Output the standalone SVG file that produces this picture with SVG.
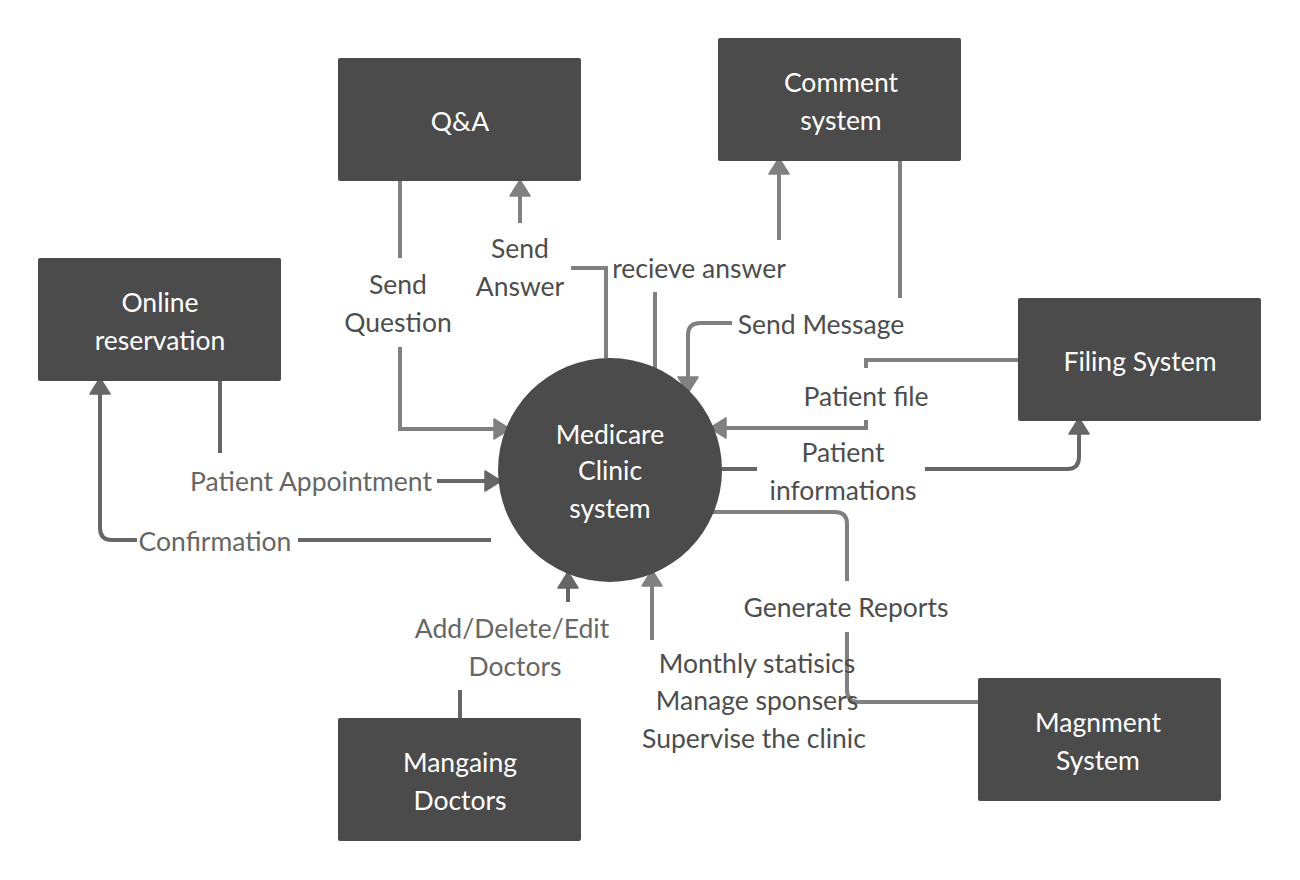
<svg xmlns="http://www.w3.org/2000/svg" width="1300" height="880" viewBox="0 0 1300 880">
<style>
.box{fill:#4b4b4b;}
.nt{font-family:Lato,"Liberation Sans",sans-serif;font-size:26.5px;fill:#ffffff;text-anchor:middle;}
.lb{font-family:Lato,"Liberation Sans",sans-serif;font-size:26.5px;fill:#4d4d4d;text-anchor:middle;}
.lb2{fill:#666666;}
.cl{fill:none;stroke:#808080;stroke-width:4;}
.cd{fill:none;stroke:#666666;stroke-width:4;}
</style>
<defs>
<marker id="al" viewBox="0 0 18 22" refX="17" refY="11" markerWidth="18" markerHeight="22" markerUnits="userSpaceOnUse" orient="auto">
<path d="M1,1 L17,11 L1,21 Z" fill="#808080" stroke="#808080" stroke-width="1.5" stroke-linejoin="round"/>
</marker>
<marker id="ad" viewBox="0 0 18 22" refX="17" refY="11" markerWidth="18" markerHeight="22" markerUnits="userSpaceOnUse" orient="auto">
<path d="M1,1 L17,11 L1,21 Z" fill="#666666" stroke="#666666" stroke-width="1.5" stroke-linejoin="round"/>
</marker>
</defs>
<rect width="1300" height="880" fill="#ffffff"/>
<g id="connectors">
<path class="cl" d="M400,181 V258"/>
<path class="cl" d="M400,347 V429 H510" marker-end="url(#al)"/>
<path class="cl" d="M606,358 V268 H571"/>
<path class="cl" d="M520,223 V180" marker-end="url(#al)"/>
<path class="cl" d="M655,377 V292"/>
<path class="cl" d="M779,240 V158" marker-end="url(#al)"/>
<path class="cl" d="M900,161 V298"/>
<path class="cl" d="M732,323 H700 Q688,323 688,335 V393" marker-end="url(#al)"/>
<path class="cl" d="M1018,360 H866 V368"/>
<path class="cl" d="M866,420 V428 H710" marker-end="url(#al)"/>
<path class="cl" d="M710,512 H835 Q847,512 847,524 V581"/>
<path class="cl" d="M847,632 V690 Q847,702 859,702 H980"/>
<path class="cl" d="M652,640 V570" marker-end="url(#al)"/>
<path class="cd" d="M460,718 V690"/>
<path class="cd" d="M568,602 V572" marker-end="url(#ad)"/>
<path class="cd" d="M220,381 V453"/>
<path class="cd" d="M437,481 H501" marker-end="url(#ad)"/>
<path class="cd" d="M491,540 H298"/>
<path class="cd" d="M137,540 H112 Q100,540 100,528 V378" marker-end="url(#ad)"/>
<path class="cd" d="M722,469 H757"/>
<path class="cd" d="M925,469 H1067 Q1079,469 1079,457 V418" marker-end="url(#ad)"/>
</g>
<g id="labels">
<text class="lb" x="398" y="294">Send</text>
<text class="lb" x="398" y="332">Question</text>
<text class="lb" x="520" y="258">Send</text>
<text class="lb" x="520" y="296">Answer</text>
<text class="lb" x="699" y="278">recieve answer</text>
<text class="lb" x="821" y="334">Send Message</text>
<text class="lb" x="866" y="406">Patient file</text>
<text class="lb" x="843" y="462">Patient</text>
<text class="lb" x="843" y="500">informations</text>
<text class="lb" x="846" y="617">Generate Reports</text>
<text class="lb" x="757" y="673">Monthly statisics</text>
<text class="lb" x="757" y="710">Manage sponsers</text>
<text class="lb" x="754" y="748">Supervise the clinic</text>
<text class="lb lb2" x="512" y="638">Add/Delete/Edit</text>
<text class="lb lb2" x="515" y="676">Doctors</text>
<text class="lb lb2" x="311" y="491">Patient Appointment</text>
<text class="lb lb2" x="215" y="551">Confirmation</text>
</g>
<g id="qa">
<rect class="box" x="338" y="58" width="243" height="123" rx="2"/>
<text class="nt" x="460" y="131">Q&amp;A</text>
</g>
<g id="comment">
<rect class="box" x="718" y="38" width="243" height="123" rx="2"/>
<text class="nt" x="841" y="92">Comment</text>
<text class="nt" x="841" y="130">system</text>
</g>
<g id="online">
<rect class="box" x="38" y="258" width="243" height="123" rx="2"/>
<text class="nt" x="160" y="312">Online</text>
<text class="nt" x="160" y="350">reservation</text>
</g>
<g id="filing">
<rect class="box" x="1018" y="298" width="243" height="123" rx="2"/>
<text class="nt" x="1140" y="371">Filing System</text>
</g>
<g id="magnment">
<rect class="box" x="978" y="678" width="243" height="123" rx="2"/>
<text class="nt" x="1098" y="732">Magnment</text>
<text class="nt" x="1098" y="770">System</text>
</g>
<g id="doctors">
<rect class="box" x="338" y="718" width="243" height="123" rx="2"/>
<text class="nt" x="460" y="772">Mangaing</text>
<text class="nt" x="460" y="810">Doctors</text>
</g>
<g id="medicare">
<circle cx="610" cy="470" r="112" fill="#4b4b4b"/>
<text class="nt" x="610" y="444">Medicare</text>
<text class="nt" x="610" y="480">Clinic</text>
<text class="nt" x="610" y="518">system</text>
</g>
</svg>
